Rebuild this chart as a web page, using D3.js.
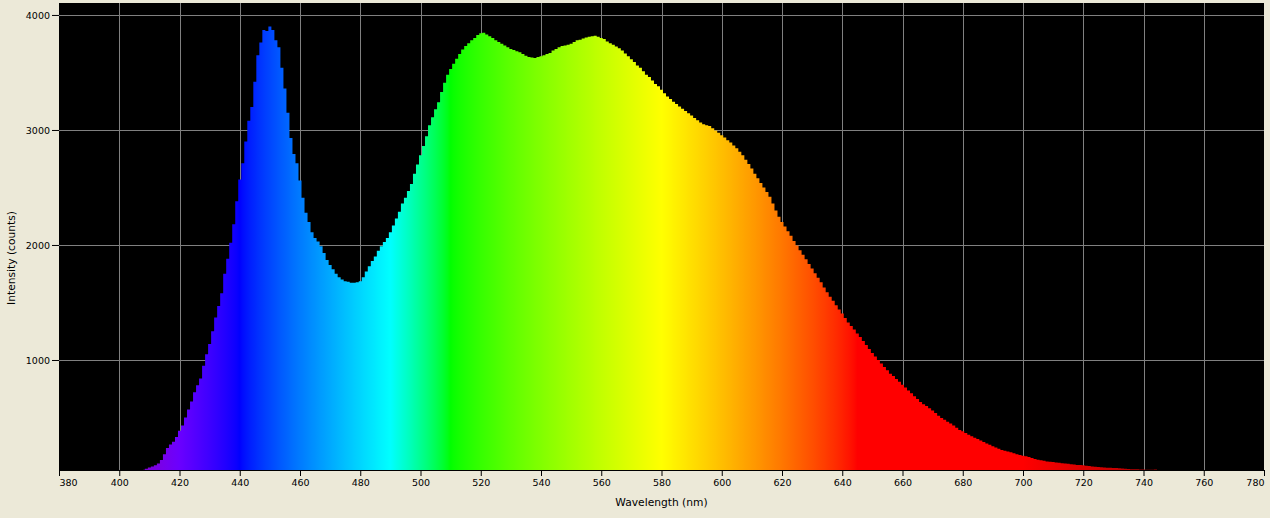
<!DOCTYPE html>
<html>
<head>
<meta charset="utf-8">
<script src="https://cdn.jsdelivr.net/npm/d3@7"></script>
<style>
  html, body { margin: 0; padding: 0; background: #ECE9D8; }
  svg { display: block; }
  text { font-family: "DejaVu Sans", sans-serif; fill: #000; }
</style>
</head>
<body>
<svg id="chart" width="1270" height="518"></svg>
<script>
// ---- data ----
const startWavelength = 408; // nm of first sample, 1 nm step
const counts = [
  45, 55, 65, 75, 85, 100, 130, 180, 235, 265,            // 408-417
  290, 330, 385, 430, 500, 570, 640, 720, 780, 840,       // 418-427
  950, 1050, 1140, 1250, 1370, 1470, 1580, 1750, 1880, 2020, // 428-437
  2180, 2380, 2570, 2710, 2900, 3080, 3200, 3420, 3650, 3760, // 438-447
  3870, 3860, 3900, 3870, 3780, 3720, 3540, 3360, 3150, 2930, // 448-457
  2790, 2710, 2560, 2410, 2280, 2200, 2110, 2060, 2030, 1990, // 458-467
  1930, 1870, 1826, 1790, 1750, 1720, 1700, 1685, 1680, 1672, // 468-477
  1672, 1675, 1685, 1720, 1770, 1815, 1860, 1900, 1950, 1990, // 478-487
  2025, 2060, 2110, 2170, 2230, 2290, 2360, 2410, 2470, 2530, // 488-497
  2620, 2700, 2780, 2860, 2945, 3040, 3110, 3180, 3240, 3330, // 498-507
  3410, 3480, 3530, 3575, 3620, 3660, 3700, 3730, 3755, 3780, // 508-517
  3800, 3825, 3840, 3845, 3830, 3815, 3800, 3780, 3765, 3750, // 518-527
  3735, 3720, 3705, 3695, 3685, 3675, 3660, 3645, 3635, 3630, // 528-537
  3625, 3635, 3640, 3650, 3660, 3670, 3690, 3705, 3720, 3730, // 538-547
  3735, 3740, 3750, 3765, 3780, 3785, 3795, 3805, 3810, 3815, // 548-557
  3820, 3810, 3800, 3790, 3770, 3755, 3740, 3725, 3710, 3690, // 558-567
  3665, 3640, 3615, 3590, 3560, 3540, 3510, 3480, 3460, 3430, // 568-577
  3400, 3380, 3350, 3320, 3290, 3270, 3245, 3225, 3205, 3185, // 578-587
  3165, 3145, 3125, 3105, 3085, 3065, 3050, 3040, 3035, 3015, // 588-597
  2995, 2975, 2955, 2935, 2910, 2890, 2865, 2840, 2810, 2780, // 598-607
  2740, 2705, 2665, 2620, 2580, 2540, 2500, 2460, 2420, 2360, // 608-617
  2300, 2245, 2200, 2160, 2120, 2080, 2035, 1995, 1955, 1915, // 618-627
  1875, 1835, 1795, 1755, 1715, 1675, 1630, 1590, 1550, 1515, // 628-637
  1475, 1440, 1405, 1365, 1325, 1295, 1265, 1230, 1200, 1165, // 638-647
  1130, 1095, 1060, 1030, 1000, 970, 940, 910, 880, 860,      // 648-657
  835, 810, 785, 760, 735, 710, 685, 660, 635, 615,           // 658-667
  600, 580, 560, 540, 515, 495, 480, 462, 447, 430,           // 668-677
  410, 392, 380, 365, 350, 338, 325, 312, 300, 288,           // 678-687
  275, 262, 250, 240, 228, 218, 210, 205, 198, 190,           // 688-697
  180, 174, 168, 162, 156, 148, 140, 133, 128, 123,           // 698-707
  118, 115, 112, 109, 106, 103, 100, 97, 94, 91,              // 708-717
  88, 86, 84, 81, 78, 75, 72, 69, 67, 66,                     // 718-727
  64, 63, 61, 60, 58, 56, 54, 52, 51, 50,                     // 728-737
  49, 48, 47, 46, 45, 45, 48, 44                              // 738-745
];
const xTicks = [380, 400, 420, 440, 460, 480, 500, 520, 540, 560, 580, 600, 620, 640, 660, 680, 700, 720, 740, 760, 780];
const yTicks = [1000, 2000, 3000, 4000];
const xDomain = [380, 780];
const yDomain = [43.5, 4104];
const xTitle = "Wavelength (nm)";
const yTitle = "Intensity (counts)";

// ---- layout ----
const plot = { left: 59, right: 1264, top: 3, bottom: 470 };

const svg = d3.select("#chart");
const x = d3.scaleLinear().domain(xDomain).range([plot.left, plot.right]);
const y = d3.scaleLinear().domain(yDomain).range([plot.bottom, plot.top]);

const data = counts.map((v, i) => ({ nm: startWavelength + i, v }));

// wavelength -> visible colour
function waveColor(w) {
  let r = 0, g = 0, b = 0;
  if (w < 440) { r = -(w - 440) / 60; b = 1; }
  else if (w < 490) { g = (w - 440) / 50; b = 1; }
  else if (w < 510) { g = 1; b = -(w - 510) / 20; }
  else if (w < 580) { r = (w - 510) / 70; g = 1; }
  else if (w < 645) { r = 1; g = -(w - 645) / 65; }
  else { r = 1; }
  let f = 1;
  if (w < 420) f = 0.3 + 0.7 * (w - 380) / 40;
  else if (w > 700) f = 0.3 + 0.7 * (780 - w) / 80;
  const c = t => t <= 0 ? 0 : Math.round(255 * Math.pow(t * f, 0.8));
  return `rgb(${c(r)},${c(g)},${c(b)})`;
}

const defs = svg.append("defs");
const grad = defs.append("linearGradient")
  .attr("id", "spec")
  .attr("gradientUnits", "userSpaceOnUse")
  .attr("x1", x(xDomain[0])).attr("x2", x(xDomain[1]))
  .attr("y1", 0).attr("y2", 0);
grad.selectAll("stop")
  .data(d3.range(xDomain[0], xDomain[1] + 1, 1))
  .join("stop")
  .attr("offset", d => (d - xDomain[0]) / (xDomain[1] - xDomain[0]))
  .attr("stop-color", d => waveColor(d));

defs.append("clipPath").attr("id", "clip")
  .append("rect")
  .attr("x", plot.left).attr("y", plot.top)
  .attr("width", plot.right - plot.left).attr("height", plot.bottom - plot.top);

// plot background
svg.append("rect")
  .attr("x", plot.left).attr("y", plot.top)
  .attr("width", plot.right - plot.left).attr("height", plot.bottom - plot.top)
  .attr("fill", "#000");

// grid
const grid = svg.append("g").attr("stroke", "#808080").attr("stroke-width", 1).attr("shape-rendering", "crispEdges");
grid.selectAll("line.v")
  .data(xTicks.filter(t => t > xDomain[0] && t < xDomain[1]))
  .join("line").attr("class", "v")
  .attr("x1", d => Math.round(x(d)) + 0.5).attr("x2", d => Math.round(x(d)) + 0.5)
  .attr("y1", plot.top).attr("y2", plot.bottom);
grid.selectAll("line.h")
  .data(yTicks)
  .join("line").attr("class", "h")
  .attr("y1", d => Math.round(y(d)) + 0.5).attr("y2", d => Math.round(y(d)) + 0.5)
  .attr("x1", plot.left).attr("x2", plot.right);

// spectrum (histogram-like steps)
const area = d3.area()
  .x(d => x(d.nm))
  .y0(plot.bottom)
  .y1(d => y(d.v))
  .curve(d3.curveStep);
svg.append("path")
  .datum(data)
  .attr("clip-path", "url(#clip)")
  .attr("fill", "url(#spec)")
  .attr("d", area);

// x axis
const xAxis = svg.append("g")
  .attr("transform", `translate(0,${plot.bottom})`)
  .call(d3.axisBottom(x).tickValues(xTicks).tickSize(6).tickPadding(3).tickFormat(d3.format("d")));
xAxis.select(".domain").attr("stroke", "#000");
xAxis.selectAll(".tick line").attr("stroke", "#000");
xAxis.selectAll(".tick text")
  .style("font-size", "9.5px")
  .attr("text-anchor", (d, i) => i === 0 ? "start" : (i === xTicks.length - 1 ? "end" : "middle"));

// y axis
const yAxis = svg.append("g")
  .attr("transform", `translate(${plot.left},0)`)
  .call(d3.axisLeft(y).tickValues(yTicks).tickSize(7).tickPadding(2).tickFormat(d3.format("d")));
yAxis.select(".domain").remove();
yAxis.selectAll(".tick line").attr("stroke", "#000");
yAxis.selectAll(".tick text").style("font-size", "9.5px");

// titles
svg.append("text")
  .attr("x", (plot.left + plot.right) / 2).attr("y", 506)
  .attr("text-anchor", "middle")
  .style("font-size", "10.7px")
  .text(xTitle);
svg.append("text")
  .attr("transform", "translate(15,258) rotate(-90)")
  .attr("text-anchor", "middle")
  .style("font-size", "10.7px")
  .text(yTitle);
</script>
</body>
</html>
